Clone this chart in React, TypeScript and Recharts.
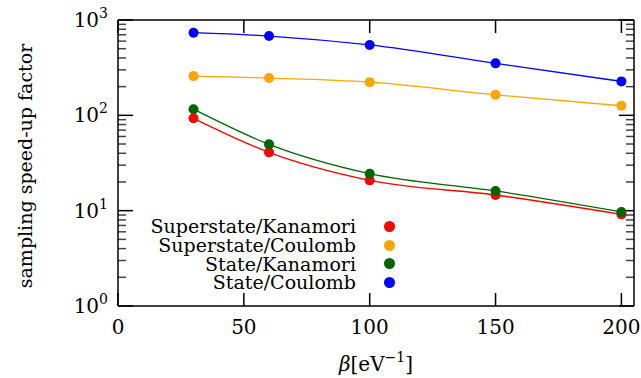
import { LineChart, Line, XAxis, YAxis, Legend, Label, ReferenceLine } from "recharts";

const betas = [30, 60, 100, 150, 200];
const superKanamori = [93, 40.9, 20.8, 14.6, 9.15];
const superCoulomb = [258, 246, 223, 164, 126];
const stateKanamori = [116, 49.6, 24.4, 16.1, 9.7];
const stateCoulomb = [736, 679, 547, 351, 227];

const xTicks = [0, 50, 100, 150, 200];
const decades = [1, 10, 100, 1000];
const yTicks = [1, 2, 3, 4, 5, 6, 7, 8, 9, 10, 20, 30, 40, 50, 60, 70, 80, 90, 100, 200, 300, 400, 500, 600, 700, 800, 900, 1000];

const X_MAX = 205;
const Y_MIN = 1;
const Y_MAX = 1000;
// tick mark lengths in data units (inward ticks like the gnuplot box)
const X_TICK_FACTOR = 1.37; // ~13px on the log axis
const Y_TICK_MAJOR = 6; // ~15px in beta units
const Y_TICK_MINOR = 3.2; // ~8px

const series = [
  { key: "sk", name: "Superstate/Kanamori", color: "#ff0000", values: superKanamori },
  { key: "sc", name: "Superstate/Coulomb", color: "#ffa500", values: superCoulomb },
  { key: "tk", name: "State/Kanamori", color: "#006400", values: stateKanamori },
  { key: "tc", name: "State/Coulomb", color: "#0000ff", values: stateCoulomb },
];

const rows = betas.map((b, i) => {
  const r: Record<string, number> = { beta: b };
  series.forEach((s) => (r[s.key] = s.values[i]));
  return r;
});

const FONT = "DejaVu Serif";
const axisStyle = { stroke: "#000", strokeWidth: 1.5 };
const isMajor = (v: number) => decades.includes(v);

const BottomTick = (p: any) => (
  <text x={p.x} y={p.y + 28} textAnchor="middle" fontFamily={FONT} fontSize={20} fill="#000">
    {p.payload.value}
  </text>
);

const LeftTick = (p: any) => {
  const v = p.payload.value;
  if (!isMajor(v)) return <g />;
  const exp = Math.round(Math.log10(v));
  return (
    <text x={p.x - 10} y={p.y + 7} textAnchor="end" fontFamily={FONT} fontSize={20} fill="#000">
      10<tspan dy={-9} fontSize={14}>{exp}</tspan>
    </text>
  );
};

const XLabel = (p: any) => {
  const vb = p.viewBox;
  return (
    <text x={vb.x + vb.width / 2} y={vb.y + 65} textAnchor="middle" fontFamily={FONT} fontSize={20} fill="#000">
      <tspan fontStyle="italic">β</tspan>[eV<tspan dy={-9} fontSize={14}>−1</tspan>
      <tspan dy={9}>]</tspan>
    </text>
  );
};

const YLabel = (p: any) => {
  const vb = p.viewBox;
  const cy = vb.y + vb.height / 2 + 3;
  return (
    <text transform={`translate(32,${cy}) rotate(-90)`} textAnchor="middle" fontFamily={FONT} fontSize={19} fill="#000">
      sampling speed-up factor
    </text>
  );
};

const renderLegend = () => (
  <div style={{ fontFamily: FONT, fontSize: 19, lineHeight: "18.8px" }}>
    {series.map((s) => (
      <div key={s.key} style={{ display: "flex", alignItems: "center", justifyContent: "flex-end" }}>
        <span>{s.name}</span>
        <span style={{ display: "inline-block", width: 11, height: 11, borderRadius: 6, background: s.color, marginLeft: 28 }} />
      </div>
    ))}
  </div>
);

export default function App() {
  return (
    <div style={{ position: "absolute", left: 0, top: 0, width: 641, height: 378 }}>
      <LineChart width={641} height={378} data={rows} margin={{ top: 19, right: 6, bottom: 0, left: 0 }}>
        <XAxis
          xAxisId="b"
          dataKey="beta"
          type="number"
          domain={[0, X_MAX]}
          ticks={xTicks}
          interval={0}
          height={72}
          tickSize={0}
          tickMargin={0}
          tickLine={false}
          tick={BottomTick}
          axisLine={axisStyle}
        >
          <Label content={XLabel} />
        </XAxis>
        <XAxis
          xAxisId="t"
          orientation="top"
          dataKey="beta"
          type="number"
          domain={[0, X_MAX]}
          ticks={xTicks}
          height={1}
          tick={false}
          tickLine={false}
          axisLine={axisStyle}
        />
        <YAxis
          yAxisId="l"
          scale="log"
          domain={[Y_MIN, Y_MAX]}
          allowDataOverflow
          ticks={yTicks}
          interval={0}
          width={118}
          tickSize={0}
          tickMargin={0}
          tickLine={false}
          tick={LeftTick}
          axisLine={axisStyle}
        >
          <Label content={YLabel} />
        </YAxis>
        <YAxis
          yAxisId="r"
          orientation="right"
          scale="log"
          domain={[Y_MIN, Y_MAX]}
          allowDataOverflow
          ticks={yTicks}
          width={1}
          tick={false}
          tickLine={false}
          axisLine={axisStyle}
        />
        {xTicks.map((v) => (
          <ReferenceLine
            key={`xb${v}`}
            xAxisId="b"
            yAxisId="l"
            segment={[{ x: v, y: Y_MIN }, { x: v, y: Y_MIN * X_TICK_FACTOR }]}
            stroke="#000"
            strokeWidth={1.5}
            ifOverflow="visible"
          />
        ))}
        {xTicks.map((v) => (
          <ReferenceLine
            key={`xt${v}`}
            xAxisId="b"
            yAxisId="l"
            segment={[{ x: v, y: Y_MAX }, { x: v, y: Y_MAX / X_TICK_FACTOR }]}
            stroke="#000"
            strokeWidth={1.5}
            ifOverflow="visible"
          />
        ))}
        {yTicks.map((v) => (
          <ReferenceLine
            key={`yl${v}`}
            xAxisId="b"
            yAxisId="l"
            segment={[{ x: 0, y: v }, { x: isMajor(v) ? Y_TICK_MAJOR : Y_TICK_MINOR, y: v }]}
            stroke={isMajor(v) ? "#000" : "#444"}
            strokeWidth={1.5}
            ifOverflow="visible"
          />
        ))}
        {yTicks.map((v) => (
          <ReferenceLine
            key={`yr${v}`}
            xAxisId="b"
            yAxisId="l"
            segment={[{ x: X_MAX, y: v }, { x: X_MAX - (isMajor(v) ? Y_TICK_MAJOR : Y_TICK_MINOR), y: v }]}
            stroke={isMajor(v) ? "#000" : "#444"}
            strokeWidth={1.5}
            ifOverflow="visible"
          />
        ))}
        {series.map((s) => (
          <Line
            key={s.key}
            xAxisId="b"
            yAxisId="l"
            dataKey={s.key}
            name={s.name}
            type="monotone"
            stroke={s.color}
            strokeWidth={1.3}
            dot={{ r: 5, fill: s.color, stroke: "none" }}
            activeDot={false}
            isAnimationActive={false}
          />
        ))}
        <Legend
          content={renderLegend}
          layout="vertical"
          align="center"
          verticalAlign="middle"
          wrapperStyle={{ position: "absolute", left: 130, top: 217, width: 265 }}
        />
      </LineChart>
    </div>
  );
}
